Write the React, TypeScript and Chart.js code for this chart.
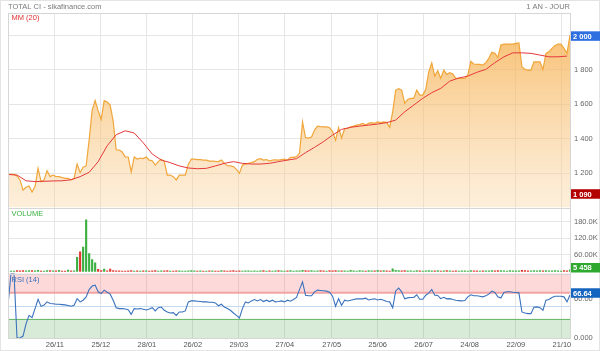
import React, { useEffect, useRef } from "react";
import { Chart, registerables } from "chart.js";
Chart.register(...registerables);

// ---- DATA ----
const price = [
  1192, 1192, 1192, 1183, 1160, 1101, 1117, 1125, 1090, 1121,
  1227, 1150, 1160, 1213, 1179, 1188, 1179, 1179, 1173, 1169,
  1169, 1160, 1169, 1252, 1202, 1233, 1241, 1391, 1565, 1620,
  1560, 1510, 1620, 1612, 1594, 1500, 1335, 1333, 1322, 1294,
  1293, 1206, 1293, 1281, 1287, 1284, 1293, 1275, 1271, 1246,
  1266, 1280, 1266, 1188, 1188, 1179, 1160, 1188, 1188, 1188,
  1250, 1281, 1281, 1278, 1278, 1275, 1275, 1269, 1269, 1267,
  1266, 1275, 1256, 1242, 1241, 1237, 1221, 1198, 1246, 1252,
  1256, 1260, 1266, 1280, 1283, 1275, 1278, 1269, 1275, 1277,
  1275, 1278, 1281, 1275, 1291, 1291, 1295, 1316, 1496, 1406,
  1403, 1409, 1449, 1472, 1469, 1468, 1468, 1463, 1440, 1391,
  1463, 1403, 1457, 1459, 1468, 1472, 1478, 1481, 1488, 1478,
  1488, 1492, 1488, 1496, 1492, 1496, 1494, 1465, 1555, 1681,
  1689, 1681, 1604, 1627, 1633, 1633, 1681, 1652, 1652, 1685,
  1786, 1838, 1762, 1793, 1749, 1797, 1772, 1782, 1774, 1749,
  1749, 1749, 1749, 1768, 1847, 1832, 1830, 1830, 1826, 1840,
  1865, 1900, 1894, 1871, 1942, 1948, 1948, 1948, 1948, 1952,
  1955, 1816, 1801, 1797, 1797, 1845, 1845, 1845, 1801, 1894,
  1903, 1923, 1940, 1948, 1948, 1923, 1894, 2000,
];

// MM (20), read every MM_STEP sessions
const MM_STEP = 3;
const mm20 = [
  1192, 1188, 1155, 1150, 1152, 1154, 1155, 1161, 1179, 1204,
  1266, 1358, 1422, 1445, 1432, 1375, 1310, 1275, 1260, 1241,
  1229, 1225, 1227, 1241, 1256, 1266, 1256, 1252, 1252, 1256,
  1266, 1275, 1283, 1318, 1349, 1382, 1420, 1453, 1465, 1472,
  1478, 1484, 1492, 1507, 1555, 1594, 1633, 1666, 1691, 1733,
  1751, 1762, 1784, 1801, 1840, 1874, 1897, 1897, 1894, 1884,
  1874, 1874, 1878,
];

const volume = [
  1500, 800, 1200, 2500, 1800, 3000, 1500, 2200, 2800, 1600,
  3500, 1200, 1000, 2500, 3000, 1400, 2000, 3500, 1200, 900,
  4000, 1500, 1300, 51000, 71000, 88000, 187000, 64000, 43000, 31000,
  7000, 2500, 8000, 1800, 8000, 3000, 1500, 2000, 1200, 900,
  1800, 2400, 1000, 1500, 800, 1300, 2000, 1000, 1600, 2200,
  900, 1400, 1800, 2600, 1200, 800, 1500, 2000, 1100, 700,
  1800, 2500, 1300, 900, 1600, 1200, 800, 1400, 1900, 1000,
  1200, 2200, 1500, 800, 1700, 2300, 1000, 1600, 900, 1300,
  2000, 1200, 1800, 900, 1400, 2600, 1100, 1500, 800, 1700,
  2400, 1300, 900, 1600, 2800, 1000, 1400, 2000, 3500, 2200,
  1600, 2500, 1200, 1800, 3000, 1400, 1100, 2300, 1600, 2700,
  1300, 2000, 1500, 900, 3500, 1800, 1200, 2500, 1600, 1000,
  2200, 1500, 1900, 3200, 1300, 2600, 1700, 1000, 9000, 3500,
  2500, 1800, 2200, 1400, 1900, 1200, 2600, 1500, 1100, 2000,
  2800, 1600, 1300, 2200, 1000, 1700, 2500, 1400, 900, 1800,
  1200, 2100, 1600, 1000, 2400, 1500, 1800, 1100, 2000, 1300,
  1600, 2600, 1400, 2200, 3000, 1800, 1200, 2500, 1500, 2000,
  1700, 3500, 2400, 1300, 1900, 2800, 1600, 2200, 1400, 3000,
  2000, 1500, 2600, 1800, 1200, 2400, 2000, 5458,
];

const rsi = [
  51, 100, 100, 0, 0, 3, 22, 35, 31.5, 45.6,
  60, 49, 51, 56, 53.4, 53, 52.3, 52.3, 51.8, 51.3,
  50.3, 49.2, 50.8, 61, 56, 58.6, 63.8, 75, 80.5, 82,
  71.6, 69, 74.2, 71, 68, 58.6, 47, 45.6, 45.6, 45,
  44, 36.7, 45.6, 45, 45.6, 44.5, 43.5, 45, 47, 42,
  47, 48, 43, 40.4, 38.8, 39.3, 35, 40.4, 40.4, 42,
  56, 57.5, 57.5, 57, 56.5, 56, 56, 55.5, 55.5, 54.4,
  50, 52.3, 48, 45.6, 43, 38.8, 35, 31, 45.6, 56,
  54.4, 57.5, 59.6, 57.5, 59.6, 56.5, 58.6, 56.5, 58.6, 56,
  56.5, 57.5, 56, 58.6, 57, 59.6, 62.8, 75, 87, 66.4,
  65.4, 65.4, 71.6, 74.2, 73.7, 73.2, 72.7, 71, 64.8, 49.2,
  61, 50.8, 58.6, 57.5, 58.6, 59.6, 60.7, 60.7, 60.7, 61.7,
  59, 60, 60.7, 59, 60, 58.6, 56.5, 56, 47, 73,
  77.3, 71.6, 60.7, 62.2, 62.8, 62.8, 67, 60, 60, 66.4,
  69.5, 75.3, 66.4, 66, 61, 63, 60.7, 61, 59.6, 58.6,
  58, 57.5, 58, 63.8, 67, 65.4, 65.4, 64.8, 63.8, 65.4,
  68, 72.7, 70.6, 63.8, 62, 70.6, 71.6, 71.6, 71, 70.6,
  70, 40.4, 38.8, 37.8, 37.8, 47.7, 48.2, 47, 43, 58.6,
  59.6, 62.8, 64.8, 64.8, 64.8, 63.8, 56, 66.64,
];

const xTickPos = [15.6, 30.9, 46.2, 61.5, 76.8, 92.1, 107.7, 123, 138.3, 153.6, 169, 184.3];
const xTickLabels = ["26/11", "25/12", "28/01", "26/02", "29/03", "27/04", "27/05", "25/06", "26/07", "24/08", "22/09", "21/10"];
const priceTicks = [1200, 1400, 1600, 1800, 2000];
const volumeTicks = [60000, 120000, 180000];
const rsiTicks = [0, 30, 60, 90];

const TITLE = "TOTAL CI - sikafinance.com";
const PERIOD = "1 AN - JOUR";

// ---- helpers ----
const FONT = "'Liberation Sans', Arial, sans-serif";
const fmtThousands = (v: number) => String(Math.round(v)).replace(/\B(?=(\d{3})+(?!\d))/g, " ");
const fmtVol = (v: number) => (v / 1000).toPrecision(4) + "K";
const fmtRsi = (v: number) => Number(v).toPrecision(4);

const decor = {
  id: "decor",
  beforeDatasetsDraw(chart: any) {
    const { ctx, chartArea: ca } = chart;
    const yr = chart.scales.yr;
    const w = ca.right - ca.left;
    ctx.save();
    const p100 = yr.getPixelForValue(100);
    const p70 = yr.getPixelForValue(70);
    const p50 = yr.getPixelForValue(50);
    const p30 = yr.getPixelForValue(30);
    const p0 = yr.getPixelForValue(0);
    ctx.fillStyle = "rgba(250,80,80,0.22)";
    ctx.fillRect(ca.left, p100, w, p70 - p100);
    ctx.fillStyle = "rgba(60,150,60,0.2)";
    ctx.fillRect(ca.left, p30, w, p0 - p30);
    ctx.lineWidth = 2;
    ctx.strokeStyle = "#f2a3a3";
    ctx.beginPath(); ctx.moveTo(ca.left, p70); ctx.lineTo(ca.right, p70); ctx.stroke();
    ctx.lineWidth = 1;
    ctx.strokeStyle = "#6dbb6d";
    ctx.beginPath(); ctx.moveTo(ca.left, Math.round(p30) + 0.5); ctx.lineTo(ca.right, Math.round(p30) + 0.5); ctx.stroke();
    ctx.strokeStyle = "#c2dbf2";
    ctx.beginPath(); ctx.moveTo(ca.left, Math.round(p50) + 0.5); ctx.lineTo(ca.right, Math.round(p50) + 0.5); ctx.stroke();
    ctx.restore();
  },
  afterDraw(chart: any) {
    const { ctx, chartArea: ca, width, height } = chart;
    const y = chart.scales.y, yv = chart.scales.yv, yr = chart.scales.yr;
    ctx.save();
    // frame + separators
    ctx.strokeStyle = "#d6d6d6";
    ctx.lineWidth = 1;
    ctx.strokeRect(Math.round(ca.left) + 0.5, Math.round(ca.top) + 0.5, Math.round(ca.right - ca.left), Math.round(ca.bottom - ca.top));
    ctx.beginPath();
    ctx.moveTo(ca.left, Math.round(y.bottom) + 0.5); ctx.lineTo(ca.right, Math.round(y.bottom) + 0.5);
    ctx.moveTo(ca.left, Math.round(yv.bottom) + 0.5); ctx.lineTo(ca.right, Math.round(yv.bottom) + 0.5);
    ctx.stroke();
    ctx.strokeStyle = "#e4e4e4";
    ctx.strokeRect(0.5, 0.5, width - 1, height - 1);

    // texts
    ctx.font = `7.5px ${FONT}`;
    ctx.textBaseline = "middle";
    ctx.fillStyle = "#7a7a7a";
    ctx.textAlign = "left";
    ctx.fillText(TITLE, 8, 6.5);
    ctx.textAlign = "right";
    ctx.fillText(PERIOD, ca.right, 6.5);
    ctx.textAlign = "left";
    ctx.fillStyle = "#e03030";
    ctx.fillText("MM (20)", 11.5, 17.5);
    ctx.fillStyle = "#3cb043";
    ctx.fillText("VOLUME", 11.5, y.bottom + 6.5);
    ctx.fillStyle = "#3a6fb8";
    ctx.fillText("RSI (14)", 11.5, yv.bottom + 6.5);

    // value boxes
    const box = (text: string, yc: number, bg: string, top: number, bottom: number) => {
      const h = 9.5;
      const c = Math.max(top + h / 2, Math.min(bottom - h / 2 - 1, yc));
      ctx.fillStyle = bg;
      ctx.fillRect(ca.right + 1, c - h / 2, width - ca.right - 1, h);
      ctx.fillStyle = "#ffffff";
      ctx.font = `bold 7.5px ${FONT}`;
      ctx.textAlign = "left";
      ctx.fillText(text, ca.right + 3, c + 0.5);
    };
    const lastPrice = price[price.length - 1];
    const lowPrice = Math.min(...price);
    box(fmtThousands(lastPrice), y.getPixelForValue(lastPrice) + 1, "#2f6fe0", y.top, y.bottom);
    box(fmtThousands(lowPrice), y.getPixelForValue(lowPrice) + 2, "#b30000", y.top, y.bottom);
    const lastVol = volume[volume.length - 1];
    box(fmtThousands(lastVol), yv.getPixelForValue(lastVol), "#2fa82f", yv.top, yv.bottom);
    const lastRsi = rsi[rsi.length - 1];
    box(fmtRsi(lastRsi), yr.getPixelForValue(lastRsi) - 2, "#1565c0", yr.top, yr.bottom);
    ctx.restore();
  },
};

export default function App() {
  const ref = useRef<HTMLCanvasElement | null>(null);
  useEffect(() => {
    if (!ref.current) return;
    const tickFont = { family: FONT, size: 7.5 };
    const yAfterFit = (s: any) => { s.width = 30; };
    const chart = new Chart(ref.current, {
      type: "line",
      data: {
        datasets: [
          {
            type: "line",
            label: "MM (20)",
            yAxisID: "y",
            data: mm20.map((v, j) => ({ x: j * MM_STEP, y: v })),
            borderColor: "#e5393b",
            borderWidth: 1,
            pointRadius: 0,
            fill: false,
            order: 1,
          },
          {
            type: "line",
            label: "Cours",
            yAxisID: "y",
            data: price.map((v, i) => ({ x: i, y: v })),
            borderColor: "#f0a63a",
            borderWidth: 1.2,
            pointRadius: 0,
            fill: "start",
            backgroundColor: (c: any) => {
              const ch = c.chart;
              const s = ch.scales && ch.scales.y;
              if (!s || !Number.isFinite(s.top) || !Number.isFinite(s.bottom) || s.bottom <= s.top) {
                return "rgba(246,178,80,0.5)";
              }
              const g = ch.ctx.createLinearGradient(0, s.top + 20, 0, s.bottom);
              g.addColorStop(0, "rgba(246,176,78,0.78)");
              g.addColorStop(1, "rgba(250,212,160,0.38)");
              return g;
            },
            order: 2,
          },
          {
            type: "bar",
            label: "Volume",
            yAxisID: "yv",
            data: volume.map((v, i) => ({ x: i, y: v })),
            backgroundColor: volume.map((_, i) => (i === 0 || price[i] >= price[i - 1] ? "#3cb043" : "#e03a2f")),
            barThickness: 1.5,
            order: 3,
          } as any,
          {
            type: "line",
            label: "RSI (14)",
            yAxisID: "yr",
            data: rsi.map((v, i) => ({ x: i, y: v })),
            borderColor: "#3a72bd",
            borderWidth: 1.1,
            pointRadius: 0,
            fill: false,
            order: 0,
          },
        ],
      },
      options: {
        responsive: false,
        animation: false,
        devicePixelRatio: 1,
        events: [],
        layout: { padding: { left: 8, top: 13, right: 0, bottom: 0 } },
        plugins: { legend: { display: false }, tooltip: { enabled: false } },
        scales: {
          x: {
            type: "linear",
            min: 0,
            max: price.length - 1,
            offset: false,
            grid: { color: "#e6e6e6", drawTicks: false, offset: false },
            border: { display: false },
            ticks: {
              font: tickFont,
              color: "#555",
              padding: 2.5,
              autoSkip: false,
              maxRotation: 0,
              callback: (_v: any, i: number) => xTickLabels[i],
            },
            afterBuildTicks: (s: any) => { s.ticks = xTickPos.map((v) => ({ value: v })); },
            afterFit: (s: any) => { s.height = 13; },
          },
          y: {
            type: "linear",
            position: "right",
            stack: "panels",
            stackWeight: 194.5,
            min: 1000,
            max: 2128,
            grid: { color: "#e6e6e6", drawTicks: false },
            border: { display: false },
            ticks: { font: tickFont, color: "#666", padding: 4, callback: (v: any) => fmtThousands(Number(v)) },
            afterBuildTicks: (s: any) => { s.ticks = priceTicks.map((v) => ({ value: v })); },
            afterFit: yAfterFit,
          },
          yv: {
            type: "linear",
            position: "right",
            stack: "panels",
            stackWeight: 66,
            min: -8000,
            max: 232000,
            grid: { color: "#e6e6e6", drawTicks: false },
            border: { display: false },
            ticks: { font: tickFont, color: "#666", padding: 4, callback: (v: any) => fmtVol(Number(v)) },
            afterBuildTicks: (s: any) => { s.ticks = volumeTicks.map((v) => ({ value: v })); },
            afterFit: yAfterFit,
          },
          yr: {
            type: "linear",
            position: "right",
            stack: "panels",
            stackWeight: 64.5,
            min: 0,
            max: 100,
            grid: { display: false, drawTicks: false },
            border: { display: false },
            ticks: { font: tickFont, color: "#666", padding: 4, callback: (v: any) => fmtRsi(Number(v)) },
            afterBuildTicks: (s: any) => { s.ticks = rsiTicks.map((v) => ({ value: v })); },
            afterFit: yAfterFit,
          },
        },
      } as any,
      plugins: [decor],
    });
    return () => chart.destroy();
  }, []);
  return (
    <div style={{ position: "absolute", left: 0, top: 0, width: 600, height: 351, background: "#fff" }}>
      <canvas ref={ref} width={600} height={351} style={{ display: "block", width: 600, height: 351 }} />
    </div>
  );
}
